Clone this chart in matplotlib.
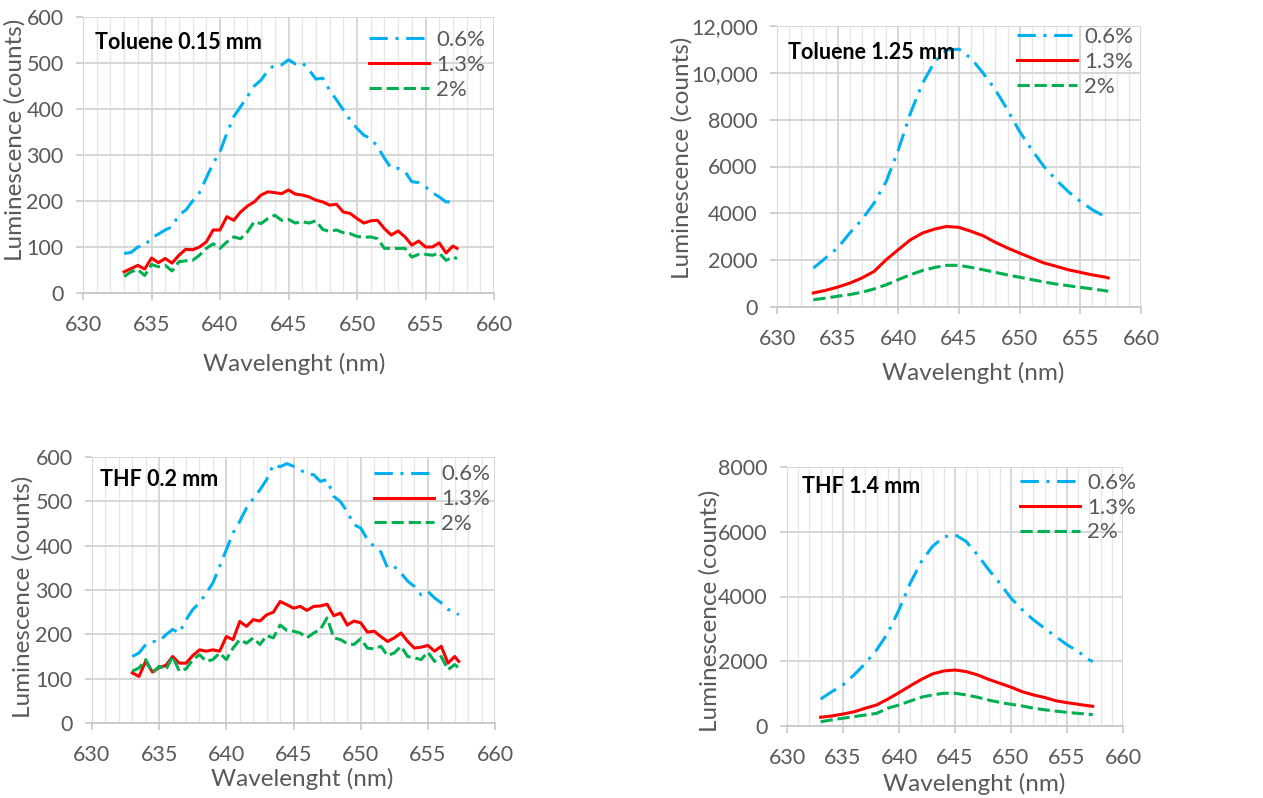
import matplotlib.pyplot as plt
import numpy as np
from matplotlib.ticker import MultipleLocator, FixedLocator, FixedFormatter

plt.rcParams['font.family'] = ['Lato', 'DejaVu Sans']

# wavelength grids (nm)
wl_fine = np.append(np.arange(633.0, 657.5, 0.5), 657.3)
wl_coarse = np.append(np.arange(633.0, 658.0, 1.0), 657.3)

series_labels = ['0.6%', '1.3%', '2%']

# Toluene 0.15 mm
tol_thin_06 = [86, 88, 100, 103, 120, 128, 137, 144, 170, 180,
               200, 218, 250, 282, 307, 347, 383, 405, 427, 450,
               463, 484, 496, 496, 507, 498, 501, 485, 465, 467,
               441, 420, 398, 376, 358, 343, 336, 318, 293, 271,
               271, 264, 242, 240, 231, 218, 209, 198, 198, 196]
tol_thin_13 = [46, 53, 60, 52, 76, 66, 75, 65, 82, 95,
               94, 100, 111, 137, 137, 166, 158, 176, 189, 198,
               213, 220, 218, 216, 224, 215, 213, 209, 202, 198,
               191, 193, 176, 173, 162, 152, 157, 158, 140, 126,
               135, 122, 104, 113, 100, 100, 109, 87, 102, 97]
tol_thin_2 = [36, 46, 51, 38, 62, 57, 60, 48, 68, 70,
              71, 82, 97, 107, 97, 111, 122, 118, 133, 155,
              151, 162, 169, 158, 160, 152, 155, 152, 157, 138,
              134, 137, 131, 129, 123, 121, 122, 118, 97, 97,
              97, 97, 78, 84, 84, 82, 87, 71, 78, 75]

# Toluene 1.25 mm
tol_thick_06 = [1660, 2090, 2520, 3160, 3730, 4440, 5360, 6710, 8280, 9560,
                10480, 10980, 11010, 10620, 9980, 9270, 8420, 7490, 6710, 6000,
                5430, 4930, 4510, 4150, 3870, 3800]
tol_thick_13 = [600, 710, 850, 1020, 1240, 1520, 2020, 2450, 2870, 3160,
                3330, 3440, 3400, 3230, 3040, 2760, 2520, 2300, 2090, 1880,
                1740, 1590, 1480, 1370, 1280, 1240]
tol_thick_2 = [310, 380, 460, 530, 630, 770, 950, 1170, 1380, 1560,
               1690, 1780, 1780, 1690, 1590, 1480, 1370, 1270, 1170, 1070,
               980, 910, 840, 770, 700, 670]

# THF 0.2 mm
thf_thin_06 = [150, 158, 177, 184, 184, 199, 211, 203, 233, 256,
               271, 293, 316, 353, 391, 429, 455, 485, 506, 526,
               549, 583, 578, 585, 579, 571, 562, 560, 545, 549,
               511, 499, 477, 447, 440, 414, 398, 386, 350, 353,
               338, 320, 308, 289, 297, 282, 271, 256, 252, 244]
thf_thin_13 = [113, 105, 140, 115, 125, 130, 150, 135, 135, 152,
               165, 162, 165, 162, 195, 188, 229, 218, 233, 230,
               244, 250, 274, 267, 259, 263, 254, 263, 264, 268,
               242, 248, 221, 230, 226, 205, 207, 195, 184, 192,
               203, 184, 169, 171, 175, 162, 173, 135, 150, 139]
thf_thin_2 = [117, 124, 143, 113, 128, 120, 150, 117, 122, 143,
              154, 139, 143, 158, 143, 169, 188, 180, 192, 177,
              197, 192, 221, 209, 207, 203, 192, 203, 211, 237,
              192, 188, 179, 177, 190, 169, 167, 173, 152, 158,
              173, 150, 147, 143, 160, 139, 150, 120, 132, 124]

# THF 1.4 mm
thf_thick_06 = [830, 1060, 1270, 1580, 1940, 2350, 2870, 3590, 4410, 5080,
                5550, 5840, 5910, 5700, 5290, 4830, 4410, 3950, 3590, 3280,
                3020, 2760, 2510, 2300, 2040, 1990]
thf_thick_13 = [270, 310, 370, 440, 550, 650, 830, 1030, 1240, 1440,
                1610, 1700, 1730, 1680, 1580, 1440, 1320, 1200, 1060, 960,
                880, 780, 720, 670, 620, 610]
thf_thick_2 = [130, 190, 240, 290, 340, 390, 550, 650, 770, 890,
               960, 1010, 1010, 960, 890, 800, 730, 670, 620, 550,
               500, 460, 420, 390, 360, 350]

ytick_tol_thick = ['0', '2000', '4000', '6000', '8000', '10,000', '12,000']

TXT = '#595959'
FS = 15.5      # tick labels
FS_LAB = 17.5  # axis titles
FS_LEG = 16

fig = plt.figure(figsize=(12.63, 7.98), dpi=100)


def make_panel(rect, x, ys, title, ymax, ystep, yticklabels,
               title_pos, leg_pos, xl_pos, yl_pos):
    ax = fig.add_axes(rect)
    styles = [dict(color='#00b0f0', linestyle=(0, (6, 2.5, 1, 2.5))),
              dict(color='#ff0000', linestyle='-'),
              dict(color='#00b050', linestyle=(0, (4, 1.6)))]
    for y, lab, st in zip(ys, series_labels, styles):
        ax.plot(x, y, label=lab, linewidth=2.2, **st)

    ax.set_xlim(630, 660)
    ax.set_ylim(0, ymax)
    ax.xaxis.set_major_locator(MultipleLocator(5))
    ax.xaxis.set_minor_locator(MultipleLocator(1))
    yt = np.arange(0, ymax + 1, ystep)
    ax.yaxis.set_major_locator(FixedLocator(yt))
    if yticklabels is not None:
        ax.yaxis.set_major_formatter(FixedFormatter(yticklabels))

    ax.grid(which='major', color='#d4d4d4', linewidth=1.3)
    ax.grid(which='minor', axis='x', color='#e6e6e6', linewidth=1.0)
    ax.set_axisbelow(True)
    for s in ['top', 'right', 'left']:
        ax.spines[s].set_visible(False)
    ax.spines['bottom'].set_color('#c8c8c8')
    ax.spines['bottom'].set_linewidth(1.3)
    ax.tick_params(which='major', axis='x', length=5, width=1.2,
                   color='#c8c8c8', pad=11, labelsize=FS, labelcolor=TXT)
    ax.tick_params(which='major', axis='y', length=5, width=1.2,
                   color='#c8c8c8', pad=9, labelsize=FS, labelcolor=TXT)
    ax.tick_params(which='minor', length=0)

    ax.set_xlabel('Wavelenght (nm)', fontsize=FS_LAB, color=TXT)
    ax.set_ylabel('Luminescence (counts)', fontsize=FS_LAB, color=TXT)
    ax.xaxis.set_label_coords(*xl_pos)
    ax.yaxis.set_label_coords(*yl_pos)

    ax.text(title_pos[0], title_pos[1], title, transform=ax.transAxes,
            fontsize=15.5, fontweight='bold', color='black',
            ha='left', va='center')

    leg = ax.legend(loc='upper right', bbox_to_anchor=leg_pos,
                    frameon=False, fontsize=FS_LEG, handlelength=2.7,
                    handletextpad=0.3, labelspacing=0.22,
                    borderaxespad=0, borderpad=0)
    for t in leg.get_texts():
        t.set_color(TXT)
    return ax


make_panel([83 / 1263, 1 - 293 / 798, 411 / 1263, 276 / 798], wl_fine,
           [tol_thin_06, tol_thin_13, tol_thin_2], 'Toluene 0.15 mm',
           600, 100, None,
           (0.029, 0.909), (0.978, 0.953), (0.513, -0.217), (-0.139, 0.554))

make_panel([777 / 1263, 1 - 307 / 798, 364 / 1263, 281 / 798], wl_coarse,
           [tol_thick_06, tol_thick_13, tol_thick_2], 'Toluene 1.25 mm',
           12000, 2000, ytick_tol_thick,
           (0.030, 0.904), (0.978, 0.997), (0.539, -0.196), (-0.231, 0.530))

make_panel([92 / 1263, 1 - 723 / 798, 403 / 1263, 266 / 798], wl_fine,
           [thf_thin_06, thf_thin_13, thf_thin_2], 'THF 0.2 mm',
           600, 100, None,
           (0.020, 0.914), (0.988, 0.972), (0.521, -0.169), (-0.144, 0.474))

make_panel([787 / 1263, 1 - 726 / 798, 336 / 1263, 259 / 798], wl_coarse,
           [thf_thick_06, thf_thick_13, thf_thick_2], 'THF 1.4 mm',
           8000, 2000, None,
           (0.045, 0.923), (1.039, 0.978), (0.557, -0.181), (-0.199, 0.444))

fig.savefig('out.png', dpi=100)
